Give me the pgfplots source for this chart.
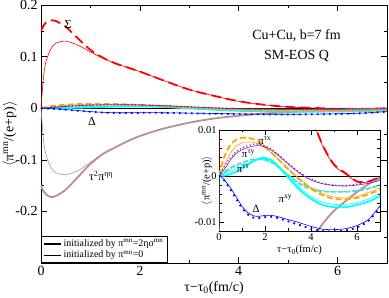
\documentclass[border=0pt]{standalone}
\usepackage{pgfplots}
\pgfplotsset{compat=1.18}
\usepackage{pgfplotstable}
\usepackage{fontspec}
\setmainfont{Liberation Serif}

\definecolor{myorange}{RGB}{255,165,0}
\definecolor{mypurple}{RGB}{140,20,180}
\definecolor{myturq}{RGB}{64,224,208}
\definecolor{mycyan}{RGB}{0,255,255}
\definecolor{mybrown}{RGB}{188,143,143}

\newcommand{\spr}[1]{\textsuperscript{#1}}

\pgfplotstableread{
t     sigA     sigB     etaA     etaB
0     0.150    0.000    -0.150   0.000
0.05  0.160    0.060    -0.161   -0.060
0.1   0.166    0.090    -0.167   -0.090
0.2   0.170    0.115    -0.172   -0.115
0.3   0.169    0.126    -0.170   -0.125
0.5   0.158    0.130    -0.158   -0.129
0.75  0.135    0.122    -0.133   -0.121
1     0.113    0.109    -0.108   -0.105
1.25  0.098    0.097    -0.089   -0.088
1.5   0.087    0.087    -0.076   -0.076
1.75  0.079    0.079    -0.064   -0.064
2     0.071    0.071    -0.054   -0.054
2.25  0.062    0.062    -0.046   -0.046
2.5   0.053    0.053    -0.039   -0.039
3     0.036    0.036    -0.028   -0.028
3.5   0.024    0.024    -0.020   -0.020
4     0.0135   0.0133   -0.0145  -0.0145
4.5   0.0068   0.0066   -0.0105  -0.0105
5     0.0025   0.0023   -0.0076  -0.0076
5.5   0.0006   0.0004   -0.0055  -0.0055
6     -0.0012  -0.0013  -0.0035  -0.0035
6.5   -0.0012  -0.0013  -0.0018  -0.0018
7     -0.0002  -0.0003  -0.0005  -0.0005
}\bigtab

\pgfplotstableread{
t     txA      txB      tyA      tyB      ttA      ttB      xyA      xyB      dA       dB
0     0        0        0        0        0        0        0        0        0        0
0.05  1.0e-3   0.5e-3   0.4e-3   0.3e-3   0.2e-3   0.15e-3  0.0      0.1e-3   -0.1e-3  -0.1e-3
0.1   2.0e-3   1.0e-3   0.8e-3   0.6e-3   0.4e-3   0.3e-3   0.02e-3  0.2e-3   -0.3e-3  -0.25e-3
0.2   3.8e-3   2.0e-3   1.7e-3   1.2e-3   0.8e-3   0.6e-3   0.05e-3  0.4e-3   -0.8e-3  -0.7e-3
0.3   5.0e-3   3.0e-3   2.6e-3   1.9e-3   1.1e-3   0.9e-3   0.1e-3   0.6e-3   -1.5e-3  -1.3e-3
0.5   6.8e-3   5.0e-3   4.0e-3   3.5e-3   1.8e-3   1.5e-3   0.4e-3   1.0e-3   -3.0e-3  -2.6e-3
0.75  7.9e-3   6.5e-3   5.3e-3   4.9e-3   2.4e-3   2.1e-3   0.9e-3   1.5e-3   -5.0e-3  -4.6e-3
1     8.3e-3   7.2e-3   6.1e-3   5.7e-3   2.9e-3   2.5e-3   1.6e-3   2.0e-3   -7.0e-3  -6.6e-3
1.25  8.3e-3   7.4e-3   6.6e-3   6.2e-3   3.3e-3   2.9e-3   2.4e-3   2.6e-3   -8.4e-3  -8.0e-3
1.5   8.0e-3   7.3e-3   6.9e-3   6.5e-3   3.6e-3   3.3e-3   3.2e-3   3.2e-3   -9.1e-3  -8.7e-3
1.75  7.3e-3   6.9e-3   6.9e-3   6.6e-3   3.7e-3   3.5e-3   3.8e-3   3.6e-3   -9.2e-3  -8.8e-3
2     6.3e-3   6.1e-3   6.6e-3   6.3e-3   3.6e-3   3.4e-3   3.9e-3   3.6e-3   -9.0e-3  -8.6e-3
2.25  5.2e-3   5.1e-3   5.9e-3   5.7e-3   3.1e-3   2.9e-3   3.5e-3   3.2e-3   -8.9e-3  -8.6e-3
2.5   4.0e-3   4.0e-3   5.0e-3   4.8e-3   2.3e-3   2.2e-3   2.5e-3   2.5e-3   -9.1e-3  -8.8e-3
3     1.5e-3   1.6e-3   2.8e-3   2.6e-3   0.2e-3   0.3e-3   -0.3e-3  0.2e-3   -9.9e-3  -9.5e-3
3.5   -0.8e-3  -0.6e-3  0.8e-3   0.6e-3   -1.8e-3  -1.5e-3  -3.0e-3  -2.5e-3  -10.7e-3 -10.2e-3
4     -2.8e-3  -2.5e-3  -0.7e-3  -0.9e-3  -2.9e-3  -2.6e-3  -5.0e-3  -4.5e-3  -11.5e-3 -11.0e-3
4.5   -4.2e-3  -3.8e-3  -1.6e-3  -1.7e-3  -3.4e-3  -3.2e-3  -6.3e-3  -5.7e-3  -12.0e-3 -11.6e-3
5     -5.0e-3  -4.6e-3  -2.0e-3  -2.1e-3  -3.5e-3  -3.4e-3  -6.8e-3  -6.2e-3  -12.1e-3 -11.7e-3
5.5   -5.1e-3  -4.8e-3  -2.1e-3  -2.2e-3  -3.5e-3  -3.4e-3  -6.8e-3  -6.2e-3  -11.9e-3 -11.5e-3
6     -4.8e-3  -4.5e-3  -1.8e-3  -2.0e-3  -3.3e-3  -3.1e-3  -6.3e-3  -5.8e-3  -11.2e-3 -10.8e-3
6.5   -4.0e-3  -3.6e-3  -1.2e-3  -1.6e-3  -2.8e-3  -2.6e-3  -5.6e-3  -5.0e-3  -9.8e-3  -9.5e-3
7     -3.0e-3  -2.6e-3  -0.4e-3  -1.0e-3  -2.1e-3  -1.9e-3  -4.4e-3  -3.8e-3  -6.8e-3  -6.5e-3
}\smalltab

\pgfplotsset{
  thinl/.style={line width=0.6pt, smooth, no marks, forget plot},
  thickl/.style={line width=1.8pt, smooth, no marks, forget plot},
}

\newcommand{\curves}{%
  \addplot[thinl, color=red] table[x=t,y=sigB]{\bigtab};
  \addplot[thickl, color=red, dash pattern=on 10bp off 5bp] table[x=t,y=sigA]{\bigtab};
  \addplot[thinl, color=mybrown] table[x=t,y=etaB]{\bigtab};
  \addplot[thickl, color=mybrown] table[x=t,y=etaA]{\bigtab};
  \addplot[thinl, color=myturq] table[x=t,y=ttB]{\smalltab};
  \addplot[thickl, color=myturq, line width=1.4pt, dash pattern=on 5bp off 2bp] table[x=t,y=ttA]{\smalltab};
  \addplot[thinl, color=mycyan] table[x=t,y=xyB]{\smalltab};
  \addplot[thickl, color=mycyan] table[x=t,y=xyA]{\smalltab};
  \addplot[thinl, color=myorange] table[x=t,y=txB]{\smalltab};
  \addplot[thickl, color=myorange, dash pattern=on 6bp off 3bp] table[x=t,y=txA]{\smalltab};
  \addplot[thinl, color=mypurple] table[x=t,y=tyB]{\smalltab};
  \addplot[thickl, color=mypurple, line width=1.6pt, line cap=round, dash pattern=on 0bp off 3.5bp] table[x=t,y=tyA]{\smalltab};
  \addplot[thinl, color=blue] table[x=t,y=dB]{\smalltab};
  \addplot[thickl, color=blue, line width=1.8pt, dash pattern=on 1.8bp off 4.2bp] table[x=t,y=dA]{\smalltab};
}

\begin{document}
\begin{tikzpicture}
\begin{axis}[
  scale only axis, width=346bp, height=258bp,
  xmin=0, xmax=7, ymin=-0.3, ymax=0.2,
  scaled ticks=false,
  xtick={0,2,4,6}, xticklabels={0,2,4,6},
  minor xtick={1,3,5,7},
  ytick={-0.2,-0.1,0,0.1,0.2}, yticklabels={-0.2,-0.1,0,0.1,0.2},
  minor ytick={-0.25,-0.15,-0.05,0.05,0.15},
  tick align=inside, major tick length=6bp, minor tick length=3bp,
  tick style={black, line width=0.6pt},
  axis line style={line width=0.8pt},
  ticklabel style={font=\fontsize{14}{14}\selectfont},
  xlabel={τ−τ\textsubscript{0}(fm/c)},
  ylabel={$\langle$π\spr{mn}/(e+p)$\rangle$},
  label style={font=\fontsize{14}{14}\selectfont},
  xlabel style={at={(axis description cs:0.5,-0.097)}, anchor=center},
  ylabel style={at={(axis description cs:-0.09,0.5)}, anchor=center},
  legend style={at={(0,0)}, anchor=south west, font=\fontsize{10}{11}\selectfont,
    draw=black, line width=0.6pt, inner sep=1.5pt, row sep=-1pt, legend cell align=left},
  legend cell align=left,
]
\addlegendimage{black, line width=1.8pt}
\addlegendentry{initialized by π\spr{mn}=2ησ\spr{mn}}
\addlegendimage{black, line width=0.6pt}
\addlegendentry{initialized by π\spr{mn}=0}
\draw[black, line width=0.5pt] (axis cs:0,0) -- (axis cs:7,0);
\curves
\node[font=\fontsize{14}{14}\selectfont] at (axis cs:5.17,0.141) {Cu+Cu, b=7 fm};
\node[font=\fontsize{14}{14}\selectfont] at (axis cs:5.17,0.102) {SM-EOS Q};
\node[font=\fontsize{12}{12}\selectfont] at (axis cs:0.55,0.163) {Σ};
\node[font=\fontsize{12}{12}\selectfont] at (axis cs:1.03,-0.026) {Δ};
\node[font=\fontsize{12}{12}\selectfont, anchor=west] at (axis cs:0.9,-0.131) {τ\spr{2}π\spr{ηη}};
\end{axis}

\begin{axis}[
  at={(178bp,32bp)}, anchor=south west,
  scale only axis, width=161bp, height=101bp,
  axis background/.style={fill=white},
  xmin=0, xmax=7, ymin=-0.012, ymax=0.01,
  scaled ticks=false,
  xtick={0,2,4,6}, xticklabels={0,2,4,6},
  minor xtick={1,3,5,7},
  ytick={-0.01,0,0.01}, yticklabels={-0.01,0,0.01},
  minor ytick={-0.012,-0.008,-0.006,-0.004,-0.002,0.002,0.004,0.006,0.008},
  tick align=inside, major tick length=5bp, minor tick length=2.5bp,
  tick style={black, line width=0.5pt},
  axis line style={line width=0.7pt},
  ticklabel style={font=\fontsize{10.5}{10.5}\selectfont},
  yticklabel style={xshift=1bp},
  xticklabel style={yshift=1bp},
  xlabel={τ−τ\textsubscript{0}(fm/c)},
  ylabel={$\langle$π\spr{mn}/(e+p)$\rangle$},
  label style={font=\fontsize{10.5}{10.5}\selectfont},
  xlabel style={at={(axis description cs:0.5,-0.19)}, anchor=center},
  ylabel style={at={(axis description cs:-0.075,0.5)}, anchor=center},
]
\draw[black, line width=0.6pt] (axis cs:0,0) -- (axis cs:7,0);
\curves
\node[font=\fontsize{11}{11}\selectfont, anchor=west, inner sep=0pt] at (axis cs:1.70,0.0077) {π\spr{τx}};
\node[font=\fontsize{11}{11}\selectfont, anchor=west, inner sep=0pt] at (axis cs:0.99,0.0048) {π\spr{τy}};
\node[font=\fontsize{11}{11}\selectfont, anchor=west, inner sep=0pt] at (axis cs:0.77,0.0015) {π\spr{ττ}};
\node[font=\fontsize{11}{11}\selectfont, anchor=west, inner sep=0pt] at (axis cs:2.58,-0.0050) {π\spr{xy}};
\node[font=\fontsize{11}{11}\selectfont, inner sep=0pt] at (axis cs:1.62,-0.0072) {Δ};
\end{axis}
\pgfresetboundingbox
\path[use as bounding box] (-41bp,-35bp) rectangle (348bp,263bp);
\end{tikzpicture}
\end{document}
